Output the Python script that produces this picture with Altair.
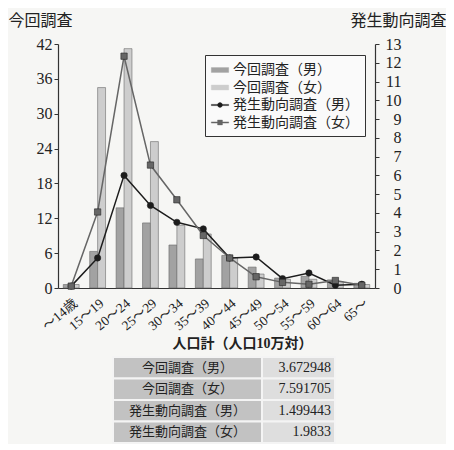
import altair as alt
import pandas as pd

FONT = "Liberation Serif, Noto Sans CJK JP"

categories = ["〜14歳", "15〜19", "20〜24", "25〜29", "30〜34", "35〜39",
              "40〜44", "45〜49", "50〜54", "55〜59", "60〜64", "65〜"]
series_names = ["今回調査（男）", "今回調査（女）", "発生動向調査（男）", "発生動向調査（女）"]

survey_male = [0.6, 6.3, 13.8, 11.2, 7.4, 5.0, 5.6, 3.6, 1.7, 2.0, 1.4, 0.8]
survey_female = [0.6, 34.5, 41.2, 25.2, 10.8, 9.3, 5.2, 2.4, 1.5, 1.5, 1.1, 0.6]
trend_male = [0.1, 1.6, 6.0, 4.4, 3.5, 3.15, 1.6, 1.65, 0.5, 0.8, 0.15, 0.2]
trend_female = [0.1, 4.05, 12.35, 6.55, 4.7, 2.8, 1.6, 0.6, 0.3, 0.2, 0.4, 0.15]

table_title = "人口計（人口10万対）"
table_labels = ["今回調査（男）", "今回調査（女）", "発生動向調査（男）", "発生動向調査（女）"]
table_values = ["3.672948", "7.591705", "1.499443", "1.9833"]

left_ticks = [0, 6, 12, 18, 24, 30, 36, 42]
right_ticks = list(range(0, 14))

bar_df = pd.DataFrame(
    [{"age": c, "series": series_names[0], "value": v} for c, v in zip(categories, survey_male)]
    + [{"age": c, "series": series_names[1], "value": v} for c, v in zip(categories, survey_female)]
)
line_df = pd.DataFrame(
    [{"age": c, "series": series_names[2], "value": v} for c, v in zip(categories, trend_male)]
    + [{"age": c, "series": series_names[3], "value": v} for c, v in zip(categories, trend_female)]
)
table_df = pd.DataFrame({"label": table_labels, "value": table_values})

P_BAR = "M-1,-0.28H1V0.28H-1Z"
P_CIRCLE = "M-1,-0.07H1V0.07H-1Z M0.28,0A0.28,0.28 0 1,1 -0.28,0A0.28,0.28 0 1,1 0.28,0Z"
P_SQUARE = "M-1,-0.07H1V0.07H-1Z M-0.28,-0.28H0.28V0.28H-0.28Z"
shape_expr = (
    f"datum.value === '{series_names[2]}' ? '{P_CIRCLE}' : "
    f"(datum.value === '{series_names[3]}' ? '{P_SQUARE}' : '{P_BAR}')"
)

color_scale = alt.Scale(domain=series_names,
                        range=["#a2a2a2", "#cdcdcd", "#1c1c1c", "#666666"])

legend = alt.Legend(
    title=None, orient="none", legendX=147, legendY=11,
    strokeColor="#333", fillColor="#fafafa", padding=6,
    labelFont=FONT, labelFontSize=14, labelColor="#222", labelLimit=300,
    symbolSize=300, rowPadding=1.5, labelOffset=4,
    symbolType={"expr": shape_expr},
    symbolStrokeColor="#666", symbolStrokeWidth=0.4, symbolOpacity=1,
)

x_enc = alt.X("age:N", sort=categories,
              scale=alt.Scale(paddingInner=0.4, paddingOuter=0.2),
              axis=alt.Axis(title=None, labelAngle=-40, labelFont=FONT, labelFontSize=13.5,
                            labelColor="#222", ticks=False, labelPadding=8,
                            domainColor="#333", domainWidth=1.2))

bars = alt.Chart(bar_df).mark_bar(stroke="#6a6a6a", strokeWidth=0.6).encode(
    x=x_enc,
    xOffset=alt.XOffset("series:N", sort=series_names[:2]),
    y=alt.Y("value:Q", scale=alt.Scale(domain=[0, 42], nice=False),
            axis=alt.Axis(orient="left", values=left_ticks, grid=False,
                          title="今回調査", titleAngle=0, titleX=-50, titleY=-24,
                          titleAlign="left", titleBaseline="middle",
                          titleFont=FONT, titleFontSize=16, titleFontWeight="normal",
                          titleColor="#222",
                          labelFont=FONT, labelFontSize=16, labelColor="#222",
                          tickSize=4, tickColor="#333", domainColor="#333", domainWidth=1.2)),
    color=alt.Color("series:N", scale=color_scale, legend=legend),
)

right_axis = alt.Axis(orient="right", values=right_ticks, grid=False,
                      title="発生動向調査", titleAngle=0, titleX=71, titleY=-24,
                      titleAlign="right", titleBaseline="middle",
                      titleFont=FONT, titleFontSize=16, titleFontWeight="normal",
                      titleColor="#222",
                      labelFont=FONT, labelFontSize=16, labelColor="#222",
                      labelAlign="right", labelPadding=22,
                      tickSize=4, tickColor="#333", domainColor="#333", domainWidth=1.2)
y_right = alt.Y("value:Q", scale=alt.Scale(domain=[0, 13], nice=False), axis=right_axis)

lines = alt.Chart(line_df).mark_line(strokeWidth=1.5).encode(
    x=x_enc, y=y_right,
    color=alt.Color("series:N", scale=color_scale, legend=legend),
)
points = alt.Chart(line_df).mark_point(filled=True, opacity=1, size=40,
                                       stroke="#222", strokeWidth=0.6).encode(
    x=x_enc, y=y_right,
    color=alt.Color("series:N", scale=color_scale, legend=legend),
    shape=alt.Shape("series:N", scale=alt.Scale(domain=series_names[2:], range=["circle", "square"]),
                    legend=None),
)

top = alt.layer(bars, alt.layer(lines, points)).resolve_scale(y="independent").properties(
    width=317, height=244)

T_LEFT = 55
W_LABEL = 149
W_VALUE = 73
row_y = alt.Y("label:N", sort=table_labels, axis=None,
              scale=alt.Scale(paddingInner=0, paddingOuter=0))

cell_label = alt.Chart(table_df).mark_rect(fill="#c2c2c2", stroke="#f4f4f4", strokeWidth=2).encode(
    y=row_y, x=alt.value(T_LEFT), x2=alt.value(T_LEFT + W_LABEL))
cell_value = alt.Chart(table_df).mark_rect(fill="#dedede", stroke="#f4f4f4", strokeWidth=2).encode(
    y=row_y, x=alt.value(T_LEFT + W_LABEL), x2=alt.value(T_LEFT + W_LABEL + W_VALUE))
text_label = alt.Chart(table_df).mark_text(font=FONT, fontSize=13, color="#222", align="center").encode(
    y=row_y, x=alt.value(T_LEFT + W_LABEL / 2), text="label:N")
text_value = alt.Chart(table_df).mark_text(font=FONT, fontSize=14, color="#222", align="right").encode(
    y=row_y, x=alt.value(T_LEFT + W_LABEL + W_VALUE - 4), text="value:N")

table = alt.layer(cell_label, cell_value, text_label, text_value).properties(
    width=T_LEFT + W_LABEL + W_VALUE, height=86,
    title=alt.TitleParams(table_title, font=FONT, fontSize=14, fontWeight="bold",
                          color="#222", offset=5, anchor="middle", dx=46))

chart = alt.vconcat(top, table, spacing=4).properties(
    padding={"left": 0, "top": 4, "right": 0, "bottom": 0},
    background="#f6f6f4",
).configure_view(strokeWidth=0)

chart.save("out.html", embed_options={"renderer": "svg", "actions": False})
